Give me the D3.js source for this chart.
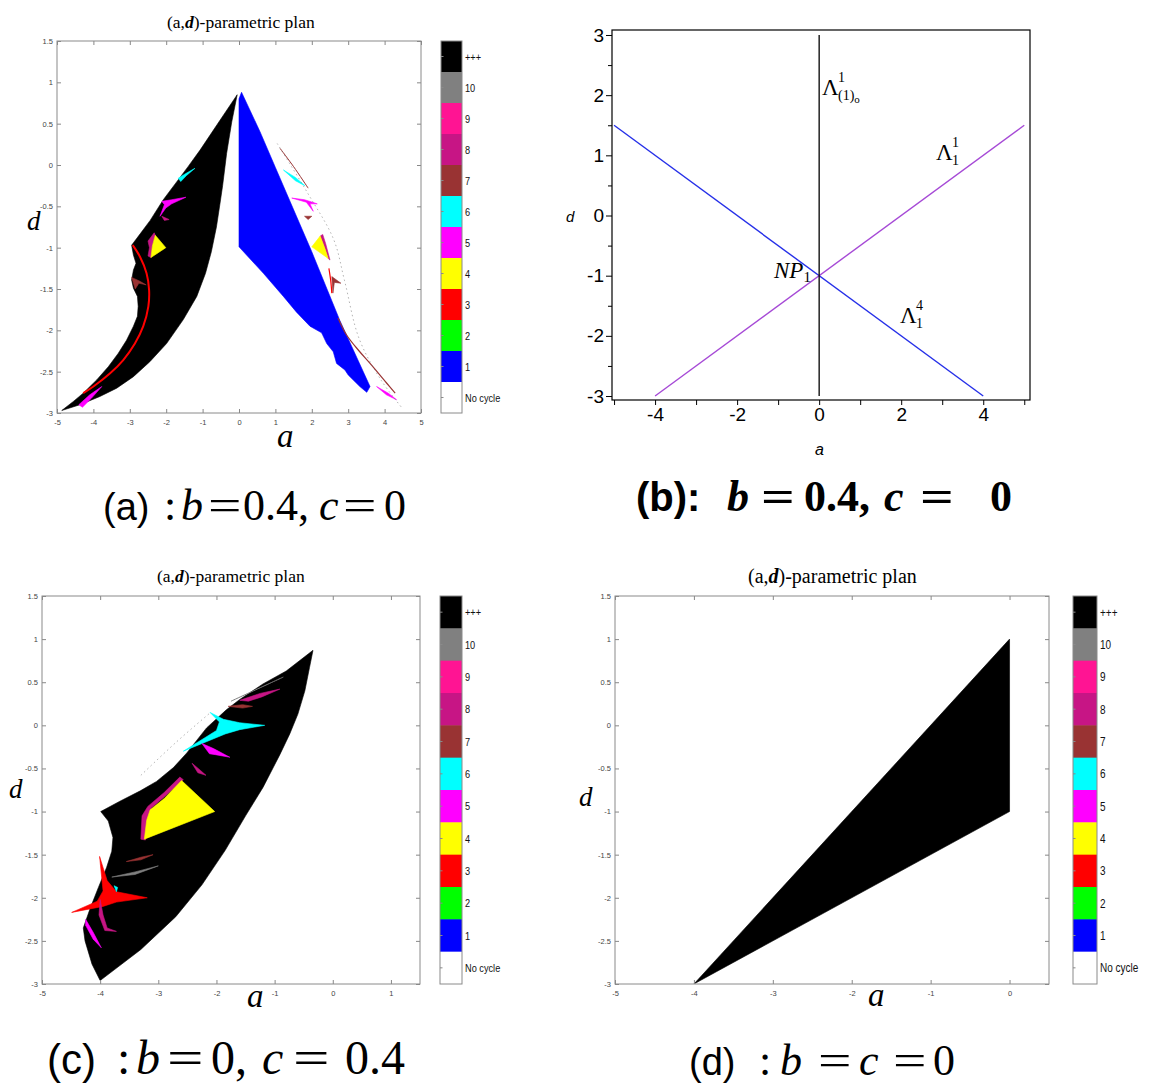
<!DOCTYPE html>
<html><head><meta charset="utf-8">
<script src="https://cdn.jsdelivr.net/npm/d3@7"></script>
<style>body{margin:0;background:#fff}svg{display:block}</style>
</head><body>
<svg id="fig" width="1157" height="1088"></svg>
<script>
// ---------- data ----------
const periodLabels = ["+++","10","9","8","7","6","5","4","3","2","1","No cycle"];
const planTicksY = [-3,-2.5,-2,-1.5,-1,-0.5,0,0.5,1,1.5];
const planTicksXA = [-5,-4,-3,-2,-1,0,1,2,3,4,5];
const planTicksXC = [-5,-4,-3,-2,-1,0,1];
const planTicksXD = [-5,-4,-3,-2,-1,0];
const maplTicksX = [-5,-4,-3,-2,-1,0,1,2,3,4,5];
const maplLabelsX = [-4,-2,0,2,4];
const maplTicksY = [-3,-2.5,-2,-1.5,-1,-0.5,0,0.5,1,1.5,2,2.5,3];
const maplLabelsY = [-3,-2,-1,0,1,2,3];

// basins of the (a,d) plane, b = 0.4, c = 0
const regionsA = [
  {period:"+++", pts:[[-0.05,0.85],[-0.60,0.49],[-1.07,0.18],[-1.40,-0.02],[-1.62,-0.15],[-2.08,-0.42],[-2.44,-0.67],[-2.71,-0.83],[-2.95,-0.97],
    [-2.90,-1.09],[-2.83,-1.19],[-2.90,-1.27],[-2.95,-1.39],[-2.90,-1.49],[-2.79,-1.59],[-2.77,-1.71],[-2.79,-1.83],[-2.90,-1.95],[-3.09,-2.12],[-3.32,-2.28],[-3.59,-2.44],[-3.91,-2.60],[-4.28,-2.76],[-4.55,-2.86],[-4.87,-2.97],
    [-4.37,-2.90],[-3.82,-2.80],[-3.36,-2.70],[-2.90,-2.56],[-2.45,-2.38],[-1.99,-2.16],[-1.53,-1.87],[-1.16,-1.59],[-0.92,-1.31],[-0.76,-1.05],[-0.62,-0.75],[-0.52,-0.46],[-0.45,-0.25],[-0.34,0.14],[-0.20,0.52]]},
  {period:"1", pts:[[0.0,0.80],[0.07,0.88],[0.58,0.40],[1.0,-0.03],[2.0,-1.05],[2.77,-1.88],[3.60,-2.68],[3.51,-2.75],[3.32,-2.68],[3.00,-2.54],[2.91,-2.48],[2.68,-2.40],[2.59,-2.26],[2.41,-2.16],[2.27,-2.03],[1.95,-1.95],[1.58,-1.78],[1.22,-1.59],[0.67,-1.31],[0.0,-0.99]]},
  {period:"8", pts:[[-2.50,-0.92],[-2.33,-0.82],[-2.30,-0.85],[-2.38,-0.98],[-2.42,-1.12],[-2.50,-1.10],[-2.46,-1.0]]},
  {period:"4", pts:[[-2.30,-0.85],[-2.01,-1.0],[-2.42,-1.12],[-2.38,-0.98]]},
  {period:"8", pts:[[2.23,-0.86],[2.30,-0.84],[2.38,-0.95],[2.50,-1.15],[2.45,-1.13],[2.36,-1.01]]},
  {period:"4", pts:[[2.23,-0.86],[2.0,-0.99],[2.45,-1.13],[2.36,-1.01]]},
  {period:"5", pts:[[-2.12,-0.44],[-1.85,-0.42],[-1.46,-0.39],[-1.85,-0.47],[-2.01,-0.52],[-2.17,-0.62],[-2.05,-0.48]]},
  {period:"8", pts:[[-2.12,-0.62],[-1.92,-0.66],[-2.05,-0.67]]},
  {period:"6", pts:[[-1.67,-0.16],[-1.45,-0.10],[-1.21,-0.04],[-1.45,-0.13],[-1.60,-0.20]]},
  {period:"7", pts:[[-2.95,-1.36],[-2.75,-1.40],[-2.55,-1.45],[-2.75,-1.43],[-2.85,-1.50]]},
  {period:"5", pts:[[-4.40,-2.90],[-4.10,-2.78],[-3.77,-2.68],[-4.05,-2.82],[-4.30,-2.93]]},
  {period:"5", pts:[[1.45,-0.40],[1.80,-0.42],[2.15,-0.47],[1.95,-0.47],[2.04,-0.56],[1.85,-0.45]]},
  {period:"6", pts:[[1.22,-0.06],[1.55,-0.15],[1.81,-0.25],[1.55,-0.19]]},
  {period:"7", pts:[[1.80,-0.62],[2.00,-0.62],[1.90,-0.66]]},
  {period:"7", pts:[[2.55,-1.35],[2.80,-1.43],[2.62,-1.42],[2.58,-1.55]]},
  {period:"5", pts:[[3.78,-2.68],[4.10,-2.76],[4.33,-2.84],[4.05,-2.78]]}
];
const curvesA = [
  {period:"3", w:2, pts:[[-2.92,-0.97],[-2.72,-1.11],[-2.54,-1.31],[-2.47,-1.51],[-2.49,-1.71],[-2.63,-1.95],[-2.86,-2.16],[-3.18,-2.36],[-3.54,-2.52],[-4.0,-2.68],[-4.28,-2.76]]},
  {period:"3", w:1.2, pts:[[2.47,-1.25],[2.52,-1.40],[2.55,-1.55]]},
  {period:"7", w:1.2, pts:[[2.72,-1.85],[2.96,-2.06],[3.30,-2.25],[3.60,-2.40],[4.06,-2.64],[4.29,-2.76]]},
  {period:"7", w:1, pts:[[1.13,0.20],[1.50,-0.02],[1.90,-0.28]]},
  {period:"10", w:0.6, pts:[[1.05,0.26],[1.9,-0.35],[2.6,-0.9],[2.9,-1.4],[3.3,-2.1],[3.9,-2.6],[4.5,-2.95]]}
];

// basins of the (a,d) plane, b = 0, c = 0.4
const regionsC = [
  {period:"+++", pts:[[-0.34,0.87],[-0.40,0.67],[-0.48,0.40],[-0.60,0.13],[-0.74,-0.10],[-0.91,-0.34],[-1.20,-0.72],[-1.50,-1.05],[-1.85,-1.45],[-2.25,-1.85],[-2.70,-2.22],[-3.30,-2.60],[-4.00,-2.96],
    [-4.14,-2.77],[-4.26,-2.50],[-4.29,-2.35],[-4.17,-2.12],[-4.03,-1.88],[-3.89,-1.65],[-3.80,-1.46],[-3.78,-1.30],[-3.86,-1.11],[-3.99,-1.00],
    [-3.66,-0.88],[-3.31,-0.76],[-3.03,-0.65],[-2.74,-0.49],[-2.51,-0.32],[-2.17,-0.03],[-1.83,0.18],[-1.60,0.30],[-1.20,0.48],[-0.80,0.63]]},
  {period:"8", pts:[[-2.63,-0.60],[-2.57,-0.63],[-2.90,-0.83],[-3.12,-0.96],[-3.18,-1.10],[-3.22,-1.33],[-3.30,-1.32],[-3.28,-1.05],[-3.18,-0.94],[-2.90,-0.78]]},
  {period:"4", pts:[[-2.60,-0.64],[-2.03,-1.0],[-3.24,-1.32],[-3.20,-1.10],[-3.14,-0.98],[-2.90,-0.85]]},
  {period:"3", pts:[[-4.01,-1.52],[-3.88,-1.80],[-3.72,-1.93],[-3.19,-2.00],[-3.72,-2.05],[-3.95,-2.10],[-4.49,-2.17],[-4.05,-2.04],[-3.95,-1.92]]},
  {period:"6", pts:[[-2.11,0.15],[-1.88,0.07],[-1.60,0.03],[-1.17,0.0],[-1.60,-0.05],[-1.85,-0.10],[-2.57,-0.30],[-2.00,-0.06],[-1.95,0.04]]},
  {period:"5", pts:[[-2.25,-0.21],[-2.05,-0.27],[-1.77,-0.37],[-2.02,-0.34],[-2.12,-0.33]]},
  {period:"8", pts:[[-2.42,-0.44],[-2.28,-0.52],[-2.18,-0.58],[-2.32,-0.55]]},
  {period:"8", pts:[[-1.60,0.29],[-1.25,0.37],[-0.91,0.42],[-1.22,0.33],[-1.45,0.28]]},
  {period:"7", pts:[[-1.80,0.22],[-1.55,0.24],[-1.38,0.22],[-1.55,0.20]]},
  {period:"7", pts:[[-3.55,-1.58],[-3.30,-1.53],[-3.09,-1.50],[-3.30,-1.56]]},
  {period:"10", pts:[[-3.80,-1.76],[-3.40,-1.70],[-3.00,-1.63],[-3.40,-1.73]]},
  {period:"8", pts:[[-4.0,-2.02],[-3.95,-2.20],[-3.88,-2.35],[-3.72,-2.39],[-3.92,-2.38],[-4.02,-2.20]]},
  {period:"5", pts:[[-4.25,-2.25],[-4.12,-2.40],[-3.98,-2.58],[-4.12,-2.48],[-4.25,-2.32]]},
  {period:"6", pts:[[-3.76,-1.86],[-3.70,-1.88],[-3.72,-1.93]]}
];
const curvesC = [
  {period:"10", w:1, pts:[[-1.75,0.28],[-1.30,0.42],[-0.85,0.56]]},
  {period:"10", w:0.6, pts:[[-3.3,-0.58],[-2.7,-0.2],[-2.1,0.15]]}
];

// basins of the (a,d) plane, b = c = 0
const regionsD = [
  {period:"+++", pts:[[-4,-3],[0,1],[0,-1]]}
];

// bifurcation lines of the fixed point, b = 0.4, c = 0
const lambda1_1 = [[-4,-3],[5,1.5]];
const lambda4_1 = [[-5,1.5],[4,-3]];
const lambda1_10 = [[0,3],[0,-3]];

// ---------- drawing ----------
const SANS = "'Liberation Sans', Arial, sans-serif";
const SERIF = "'Liberation Serif', 'Times New Roman', serif";
const svg = d3.select("#fig");
const periodColor = d3.scaleOrdinal().domain(periodLabels)
  .range(["#000000","#808080","#ff1493","#c71585","#993333","#00ffff","#ff00ff","#ffff00","#ff0000","#00ff00","#0000ff","#ffffff"]);

let clipId = 0;
function planPanel(cfg) {
  const g = svg.append("g");
  const x = d3.scaleLinear().domain(cfg.xDomain).range([cfg.left, cfg.right]);
  const y = d3.scaleLinear().domain([-3, 1.5]).range([cfg.bottom, cfg.top]);
  const id = "clip" + (clipId++);
  g.append("clipPath").attr("id", id).append("rect")
    .attr("x", cfg.left).attr("y", cfg.top).attr("width", cfg.right - cfg.left).attr("height", cfg.bottom - cfg.top);
  const plot = g.append("g").attr("clip-path", `url(#${id})`);
  const line = d3.line().x(p => x(p[0])).y(p => y(p[1]));
  plot.selectAll("path.reg").data(cfg.regions).join("path").attr("class", "reg")
    .attr("d", r => line(r.pts) + "Z").attr("fill", r => periodColor(r.period))
    .attr("stroke", r => periodColor(r.period)).attr("stroke-width", 0.6).attr("stroke-linejoin", "round");
  plot.selectAll("path.crv").data(cfg.curves || []).join("path").attr("class", "crv")
    .attr("d", c => d3.line().curve(d3.curveCatmullRom).x(p => x(p[0])).y(p => y(p[1]))(c.pts))
    .attr("fill", "none").attr("stroke", c => periodColor(c.period)).attr("stroke-width", c => c.w)
    .attr("stroke-dasharray", c => c.w < 0.8 ? "1.5,3" : null);

  // MATLAB-style box with inward ticks on every side
  const fmt = d => String(d);
  const bottom = g.append("g").attr("transform", `translate(0,${cfg.bottom})`)
    .call(d3.axisBottom(x).tickValues(cfg.xTicks).tickSize(-4).tickPadding(7).tickFormat(fmt));
  const top = g.append("g").attr("transform", `translate(0,${cfg.top})`)
    .call(d3.axisTop(x).tickValues(cfg.xTicks).tickSize(-4).tickFormat(""));
  const left = g.append("g").attr("transform", `translate(${cfg.left},0)`)
    .call(d3.axisLeft(y).tickValues(planTicksY).tickSize(-4).tickPadding(4).tickFormat(fmt));
  const right = g.append("g").attr("transform", `translate(${cfg.right},0)`)
    .call(d3.axisRight(y).tickValues(planTicksY).tickSize(-4).tickFormat(""));
  [bottom, top, left, right].forEach(a => {
    a.select(".domain").remove();
    a.selectAll(".tick line").attr("stroke", "#888");
    a.selectAll("text").attr("font-family", SANS).attr("font-size", 7.5).attr("fill", "#444");
  });
  g.append("rect").attr("x", cfg.left).attr("y", cfg.top)
    .attr("width", cfg.right - cfg.left).attr("height", cfg.bottom - cfg.top)
    .attr("fill", "none").attr("stroke", "#8a8a8a").attr("stroke-width", 1);

  // title
  const t = g.append("text").attr("x", cfg.title.x).attr("y", cfg.title.y)
    .attr("font-family", SERIF).attr("font-size", cfg.title.fs);
  t.append("tspan").text("(a,");
  t.append("tspan").attr("font-weight", "bold").attr("font-style", "italic").text("d");
  t.append("tspan").text(")-parametric plan");

  // axis labels
  g.append("text").attr("x", cfg.dLabel.x).attr("y", cfg.dLabel.y)
    .attr("font-family", SERIF).attr("font-style", "italic").attr("font-size", 27).text("d");
  g.append("text").attr("x", cfg.aLabel.x).attr("y", cfg.aLabel.y)
    .attr("font-family", SERIF).attr("font-style", "italic").attr("font-size", 33).text("a");

  // colour bar
  const cb = cfg.cbar;
  const band = d3.scaleBand().domain(periodLabels).range([cfg.top, cfg.bottom]);
  const cg = g.append("g");
  cg.selectAll("rect").data(periodLabels).join("rect")
    .attr("x", cb.x).attr("y", d => band(d)).attr("width", cb.w).attr("height", band.bandwidth() + 0.5)
    .attr("fill", d => periodColor(d));
  cg.append("rect").attr("x", cb.x).attr("y", cfg.top).attr("width", cb.w).attr("height", cfg.bottom - cfg.top)
    .attr("fill", "none").attr("stroke", "#8a8a8a");
  cg.selectAll("line.tk").data(periodLabels).join("line").attr("class", "tk")
    .attr("x1", cb.x).attr("x2", cb.x + 2.5)
    .attr("y1", d => band(d) + band.bandwidth() / 2).attr("y2", d => band(d) + band.bandwidth() / 2)
    .attr("stroke", "#8a8a8a");
  cg.selectAll("text").data(periodLabels).join("text")
    .attr("transform", d => `translate(${cb.x + cb.w + 3},${band(d) + band.bandwidth() / 2 + cb.fs * 0.36}) scale(0.8,1)`)
    .attr("font-family", SANS).attr("font-size", cb.fs).attr("fill", "#111").text(d => d);
}

planPanel({left:57, right:421, top:41, bottom:413, xDomain:[-5,5], xTicks:planTicksXA,
  regions:regionsA, curves:curvesA, cbar:{x:441, w:21, fs:11.5},
  title:{x:167, y:28, fs:17.5}, dLabel:{x:27, y:230}, aLabel:{x:277, y:447}});
planPanel({left:42, right:420, top:596, bottom:984, xDomain:[-5,1.5], xTicks:planTicksXC,
  regions:regionsC, curves:curvesC, cbar:{x:440, w:22, fs:11.5},
  title:{x:157, y:582, fs:17.5}, dLabel:{x:9, y:798}, aLabel:{x:247, y:1007}});
planPanel({left:615, right:1049, top:596, bottom:984, xDomain:[-5,0.5], xTicks:planTicksXD,
  regions:regionsD, curves:[], cbar:{x:1073, w:24, fs:12.5},
  title:{x:748, y:583, fs:20}, dLabel:{x:579, y:806}, aLabel:{x:868, y:1006}});

// ---------- panel (b): bifurcation lines ----------
(function () {
  const L = 612, R = 1030, T = 30, B = 400;
  const x = d3.scaleLinear().domain([-5.05, 5.14]).range([L, R]);
  const y = d3.scaleLinear().domain([-3.066, 3.083]).range([B, T]);
  const g = svg.append("g");
  const line = d3.line().x(p => x(p[0])).y(p => y(p[1]));
  g.append("path").attr("d", line(lambda4_1)).attr("stroke", "#2630e8").attr("stroke-width", 1.4).attr("fill", "none");
  g.append("path").attr("d", line(lambda1_1)).attr("stroke", "#a64ad6").attr("stroke-width", 1.4).attr("fill", "none");
  g.append("path").attr("d", line(lambda1_10)).attr("stroke", "#000").attr("stroke-width", 1.3).attr("fill", "none");
  g.append("rect").attr("x", L).attr("y", T).attr("width", R - L).attr("height", B - T)
    .attr("fill", "none").attr("stroke", "#000").attr("stroke-width", 1.2);

  const ax = d3.axisBottom(x).tickValues(maplTicksX).tickSize(5).tickPadding(3)
    .tickFormat(d => maplLabelsX.includes(d) ? String(d) : "");
  const ay = d3.axisLeft(y).tickValues(maplTicksY).tickSize(5).tickPadding(3)
    .tickFormat(d => maplLabelsY.includes(d) ? String(d) : "");
  const gx = g.append("g").attr("transform", `translate(0,${B})`).call(ax);
  const gy = g.append("g").attr("transform", `translate(${L},0)`).call(ay);
  [gx, gy].forEach(a => {
    a.select(".domain").remove();
    a.selectAll(".tick line").attr("stroke", "#000");
    a.selectAll("text").attr("font-family", SANS).attr("font-size", 19).attr("fill", "#000");
  });
  gy.selectAll(".tick line").attr("x2", d => maplLabelsY.includes(d) ? -6 : -4);

  g.append("text").attr("x", 566).attr("y", 222).attr("font-family", SANS).attr("font-style", "italic")
    .attr("font-size", 15).text("d");
  g.append("text").attr("x", 815).attr("y", 455).attr("font-family", SANS).attr("font-style", "italic")
    .attr("font-size", 16).text("a");

  // line labels
  const lab = (ax_, ay_, base, sup, sub, sub2) => {
    g.append("text").attr("x", x(ax_)).attr("y", y(ay_)).attr("font-family", SERIF).attr("font-size", 23).text(base);
    const w = 16;
    g.append("text").attr("x", x(ax_) + w).attr("y", y(ay_) - 13).attr("font-family", SERIF).attr("font-size", 14).text(sup);
    const s = g.append("text").attr("x", x(ax_) + w).attr("y", y(ay_) + 5).attr("font-family", SERIF).attr("font-size", 14);
    s.append("tspan").text(sub);
    if (sub2) s.append("tspan").attr("font-size", 11).attr("dy", 3).text(sub2);
  };
  lab(0.07, 2.0, "\u039B", "1", "(1)", "o");
  lab(2.85, 0.93, "\u039B", "1", "1");
  lab(1.97, -1.79, "\u039B", "4", "1");
  const np = g.append("text").attr("x", x(-1.1)).attr("y", y(-1.04)).attr("font-family", SERIF).attr("font-size", 23);
  np.append("tspan").attr("font-style", "italic").text("NP");
  np.append("tspan").attr("font-size", 15).attr("dy", 4).text("1");
})();

// ---------- captions: each piece placed on its own; "=" drawn wide as in math type ----------
function caption(y0, size, weight, parts) {
  const g = svg.append("g").attr("font-size", size).attr("font-weight", weight);
  parts.forEach(p => {
    const sx = p.t === "=" ? 1.35 : 1;
    const t = g.append("text")
      .attr("transform", `translate(${p.x},${y0})` + (sx !== 1 ? ` scale(${sx},1)` : ""))
      .attr("font-family", p.sans ? SANS : SERIF).attr("font-style", p.it ? "italic" : "normal").text(p.t);
    if (p.fs) t.attr("font-size", p.fs);
  });
}
caption(520, 44, "normal", [
  {t:"(a)", sans:1, x:103, fs:38}, {t:":", x:164}, {t:"b", it:1, x:181}, {t:"=", x:208},
  {t:"0.4,", x:243}, {t:"c", it:1, x:319}, {t:"=", x:343}, {t:"0", x:384}]);
caption(511, 44, "bold", [
  {t:"(b):", sans:1, x:636, fs:40}, {t:"b", it:1, x:727}, {t:"=", x:761},
  {t:"0.4,", x:804}, {t:"c", it:1, x:884}, {t:"=", x:920}, {t:"0", x:990}]);
caption(1074, 48, "normal", [
  {t:"(c)", sans:1, x:47, fs:42}, {t:":", x:117}, {t:"b", it:1, x:136}, {t:"=", x:167},
  {t:"0,", x:211}, {t:"c", it:1, x:262}, {t:"=", x:293}, {t:"0.4", x:345}]);
caption(1075, 44, "normal", [
  {t:"(d)", sans:1, x:689, fs:38}, {t:":", x:759}, {t:"b", it:1, x:780}, {t:"=", x:818},
  {t:"c", it:1, x:859}, {t:"=", x:893}, {t:"0", x:933}]);
</script>
</body></html>
